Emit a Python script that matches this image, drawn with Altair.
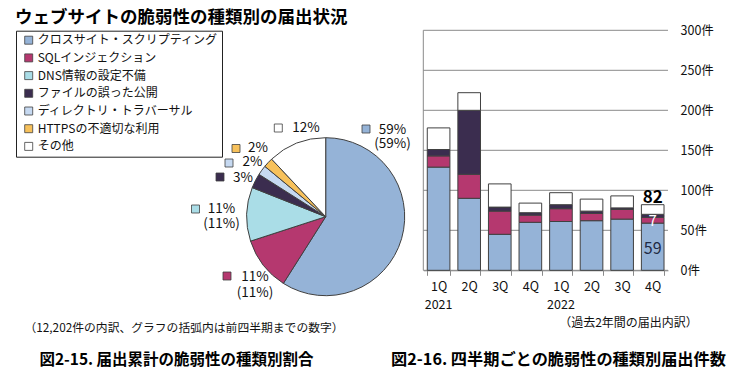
import altair as alt
import pandas as pd

JP = "Noto Sans CJK JP"

# ---------------- data ----------------
categories = ["クロスサイト・スクリプティング", "SQLインジェクション", "DNS情報の設定不備",
              "ファイルの誤った公開", "ディレクトリ・トラバーサル", "HTTPSの不適切な利用", "その他"]
colors = ["#95B3D7", "#B5386F", "#AADDE7", "#3B2D4F", "#C6D9F1", "#F7C15B", "#FFFFFF"]

pie_pct = [59, 11, 11, 3, 2, 2, 12]
pie_prev = [59, 11, 11, None, None, None, None]

quarters = ["1Q", "2Q", "3Q", "4Q", "1Q", "2Q", "3Q", "4Q"]
years = ["2021", "2021", "2021", "2021", "2022", "2022", "2022", "2022"]
xss = [129, 90, 45, 60, 61, 62, 64, 59]
sqli = [14, 30, 29, 9, 16, 9, 12, 7]
dns = [0, 0, 0, 0, 0, 0, 0, 0]
files = [8, 80, 5, 3, 5, 3, 2, 4]
dirtrav = [0, 0, 0, 0, 0, 0, 0, 0]
https = [0, 0, 0, 0, 0, 0, 0, 0]
other = [27, 22, 29, 12, 15, 15, 15, 12]
y_ticks = [0, 50, 100, 150, 200, 250, 300]

title_text = "ウェブサイトの脆弱性の種類別の届出状況"
note_left = "（12,202件の内訳、グラフの括弧内は前四半期までの数字）"
note_right = "（過去2年間の届出内訳）"
caption_left = "図2-15. 届出累計の脆弱性の種類別割合"
caption_right = "図2-16. 四半期ごとの脆弱性の種類別届出件数"

# ---------------- tables ----------------
keys = [f"{y}-{q}" for y, q in zip(years, quarters)]
series = [xss, sqli, dns, files, dirtrav, https, other]
rows = []
for ci, (cat, vals) in enumerate(zip(categories, series)):
    for k, v in zip(keys, vals):
        if v > 0:
            rows.append({"key": k, "cat": cat, "value": v, "idx": ci})
bars_df = pd.DataFrame(rows)
pie_df = pd.DataFrame({"cat": categories, "pct": pie_pct, "idx": list(range(len(categories)))})
tick_df = pd.DataFrame({"v": y_ticks})
year_df = pd.DataFrame([{"key": k, "year": y} for i, (k, y) in enumerate(zip(keys, years))
                        if i == 0 or years[i - 1] != y])
one = pd.DataFrame({"a": [0]})

color_scale = alt.Scale(domain=categories, range=colors)
x_scale = alt.Scale(domain=keys, range=[423.3, 668], paddingInner=0.26, paddingOuter=0.13)
y_scale = alt.Scale(domain=[0, 300], range=[270.3, 30.3], nice=False, zero=True)

x_axis = alt.Axis(orient="bottom", offset=-105.7, title=None, labelAngle=0,
                  labelExpr="split(datum.label, '-')[1]", tickBand="extent",
                  tickSize=5, tickColor="#8A8A8A", domainColor="#8A8A8A",
                  labelPadding=5, labelFont=JP, labelFontSize=12.5,
                  labelColor="#111111", grid=False)
y_axis = alt.Axis(orient="right", offset=-64, values=y_ticks, title=None,
                  labelExpr="datum.label + '件'", ticks=False, domain=False,
                  grid=False, labelPadding=12, labelFont=JP, labelFontSize=12.5,
                  labelColor="#111111")

legend = alt.Legend(orient="none", legendX=16, legendY=30.7, title=None,
                    symbolType="square", symbolSize=64, symbolStrokeColor="#404040",
                    symbolStrokeWidth=0.8, symbolOffset=3.2, labelOffset=3,
                    labelFont=JP, labelFontSize=12, labelColor="#111111", labelLimit=400,
                    rowPadding=5.7, padding=3.5, strokeColor="#222222", fillColor="white")

# ---------------- left: pie ----------------
CX, CY, R = 325.7, 216.7, 79
pie = alt.Chart(pie_df).mark_arc(outerRadius=R, stroke="#404040", strokeWidth=1).encode(
    theta=alt.Theta("pct:Q", stack=True),
    order=alt.Order("idx:Q"),
    color=alt.Color("cat:N", scale=color_scale, legend=legend),
    x=alt.value(CX), y=alt.value(CY),
)


def txt(s, x, y, size=14, weight="normal", color="#111111", align="center", font=JP, baseline="middle"):
    return alt.Chart(one).mark_text(text=s, font=font, fontSize=size, fontWeight=weight,
                                    color=color, align=align, baseline=baseline).encode(
        x=alt.value(x), y=alt.value(y))


def sq(ci, x, y):
    return alt.Chart(one).mark_square(size=64, fill=colors[ci], stroke="#404040",
                                      strokeWidth=0.8, opacity=1).encode(
        x=alt.value(x), y=alt.value(y))


# label layout: (category index, square x, square y, text x, text y, second line y)
pie_label_layout = [
    (0, 366.0, 129.0, 392.5, 130.0, 144.0),
    (1, 227.0, 276.0, 255.0, 276.7, 292.7),
    (2, 195.5, 209.0, 221.5, 209.3, 223.8),
    (3, 220.0, 177.0, 243.0, 177.5, None),
    (4, 229.0, 163.0, 252.5, 162.3, None),
    (5, 236.0, 148.5, 258.0, 148.0, None),
    (6, 278.3, 128.0, 306.0, 128.0, None),
]
pie_labels = []
for ci, sx, sy, tx, ty, ty2 in pie_label_layout:
    pie_labels.append(sq(ci, sx, sy))
    pie_labels.append(txt(f"{pie_pct[ci]}%", tx, ty, size=13.5))
    if ty2 is not None and pie_prev[ci] is not None:
        pie_labels.append(txt(f"({pie_prev[ci]}%)", tx, ty2, size=13.5))

# ---------------- right: bars ----------------
grid = alt.Chart(tick_df).mark_rule(color="#8A8A8A", strokeWidth=1).encode(
    y=alt.Y("v:Q", scale=y_scale, axis=y_axis),
    x=alt.value(423.3), x2=alt.value(668),
)
left_line = alt.Chart(one).mark_rule(color="#8A8A8A", strokeWidth=1).encode(
    x=alt.value(423.3), y=alt.value(30.3), y2=alt.value(270.3))

bars = alt.Chart(bars_df).mark_bar(stroke="#404040", strokeWidth=1).encode(
    x=alt.X("key:N", scale=x_scale, sort=keys, axis=x_axis),
    y=alt.Y("value:Q", stack="zero", scale=y_scale, axis=y_axis),
    color=alt.Color("cat:N", scale=color_scale, legend=legend),
    order=alt.Order("idx:Q"),
)

year_labels = alt.Chart(year_df).mark_text(font=JP, fontSize=12.5, color="#111111").encode(
    x=alt.X("key:N", scale=x_scale, sort=keys, axis=x_axis),
    y=alt.value(304.5),
    text="year:N",
)

last_key = keys[-1]
last_total = xss[-1] + sqli[-1] + dns[-1] + files[-1] + dirtrav[-1] + https[-1] + other[-1]
ann_df = pd.DataFrame({"key": [last_key]})
ann_total = alt.Chart(ann_df).mark_text(text=str(last_total), font=JP, fontSize=17,
                                        fontWeight="bold", color="#000000",
                                        baseline="bottom", dy=2).encode(
    x=alt.X("key:N", scale=x_scale, sort=keys, axis=x_axis),
    y=alt.Y(datum=last_total, scale=y_scale, axis=y_axis))
ann_sql = alt.Chart(ann_df).mark_text(text=str(sqli[-1]), font=JP, fontSize=15,
                                      color="#FFFFFF", baseline="middle", dy=1).encode(
    x=alt.X("key:N", scale=x_scale, sort=keys, axis=x_axis),
    y=alt.Y(datum=xss[-1] + sqli[-1] / 2, scale=y_scale, axis=y_axis))
ann_xss = alt.Chart(ann_df).mark_text(text=str(xss[-1]), font=JP, fontSize=16,
                                      color="#1F2A44", baseline="middle", dy=2).encode(
    x=alt.X("key:N", scale=x_scale, sort=keys, axis=x_axis),
    y=alt.Y(datum=xss[-1] / 2, scale=y_scale, axis=y_axis))

# ---------------- texts ----------------
texts = [
    txt(title_text, 15, 17.5, size=17.5, weight="bold", align="left", color="#000000"),
    txt(note_left, 184, 328, size=11.8),
    txt(note_right, 628.5, 323, size=12),
    txt(caption_left, 176.5, 360, size=15.5, weight="bold", color="#000000"),
    txt(caption_right, 558.5, 360, size=16.2, weight="bold", color="#000000"),
]

chart = alt.layer(
    grid, left_line, bars, year_labels, ann_total, ann_sql, ann_xss,
    pie, *pie_labels, *texts
).properties(
    width=732, height=376,
    autosize=alt.AutoSizeParams(type="none"),
    padding=0,
    background="white",
).configure_view(stroke=None)

chart.save("out.html", embed_options={"renderer": "svg", "actions": False})
